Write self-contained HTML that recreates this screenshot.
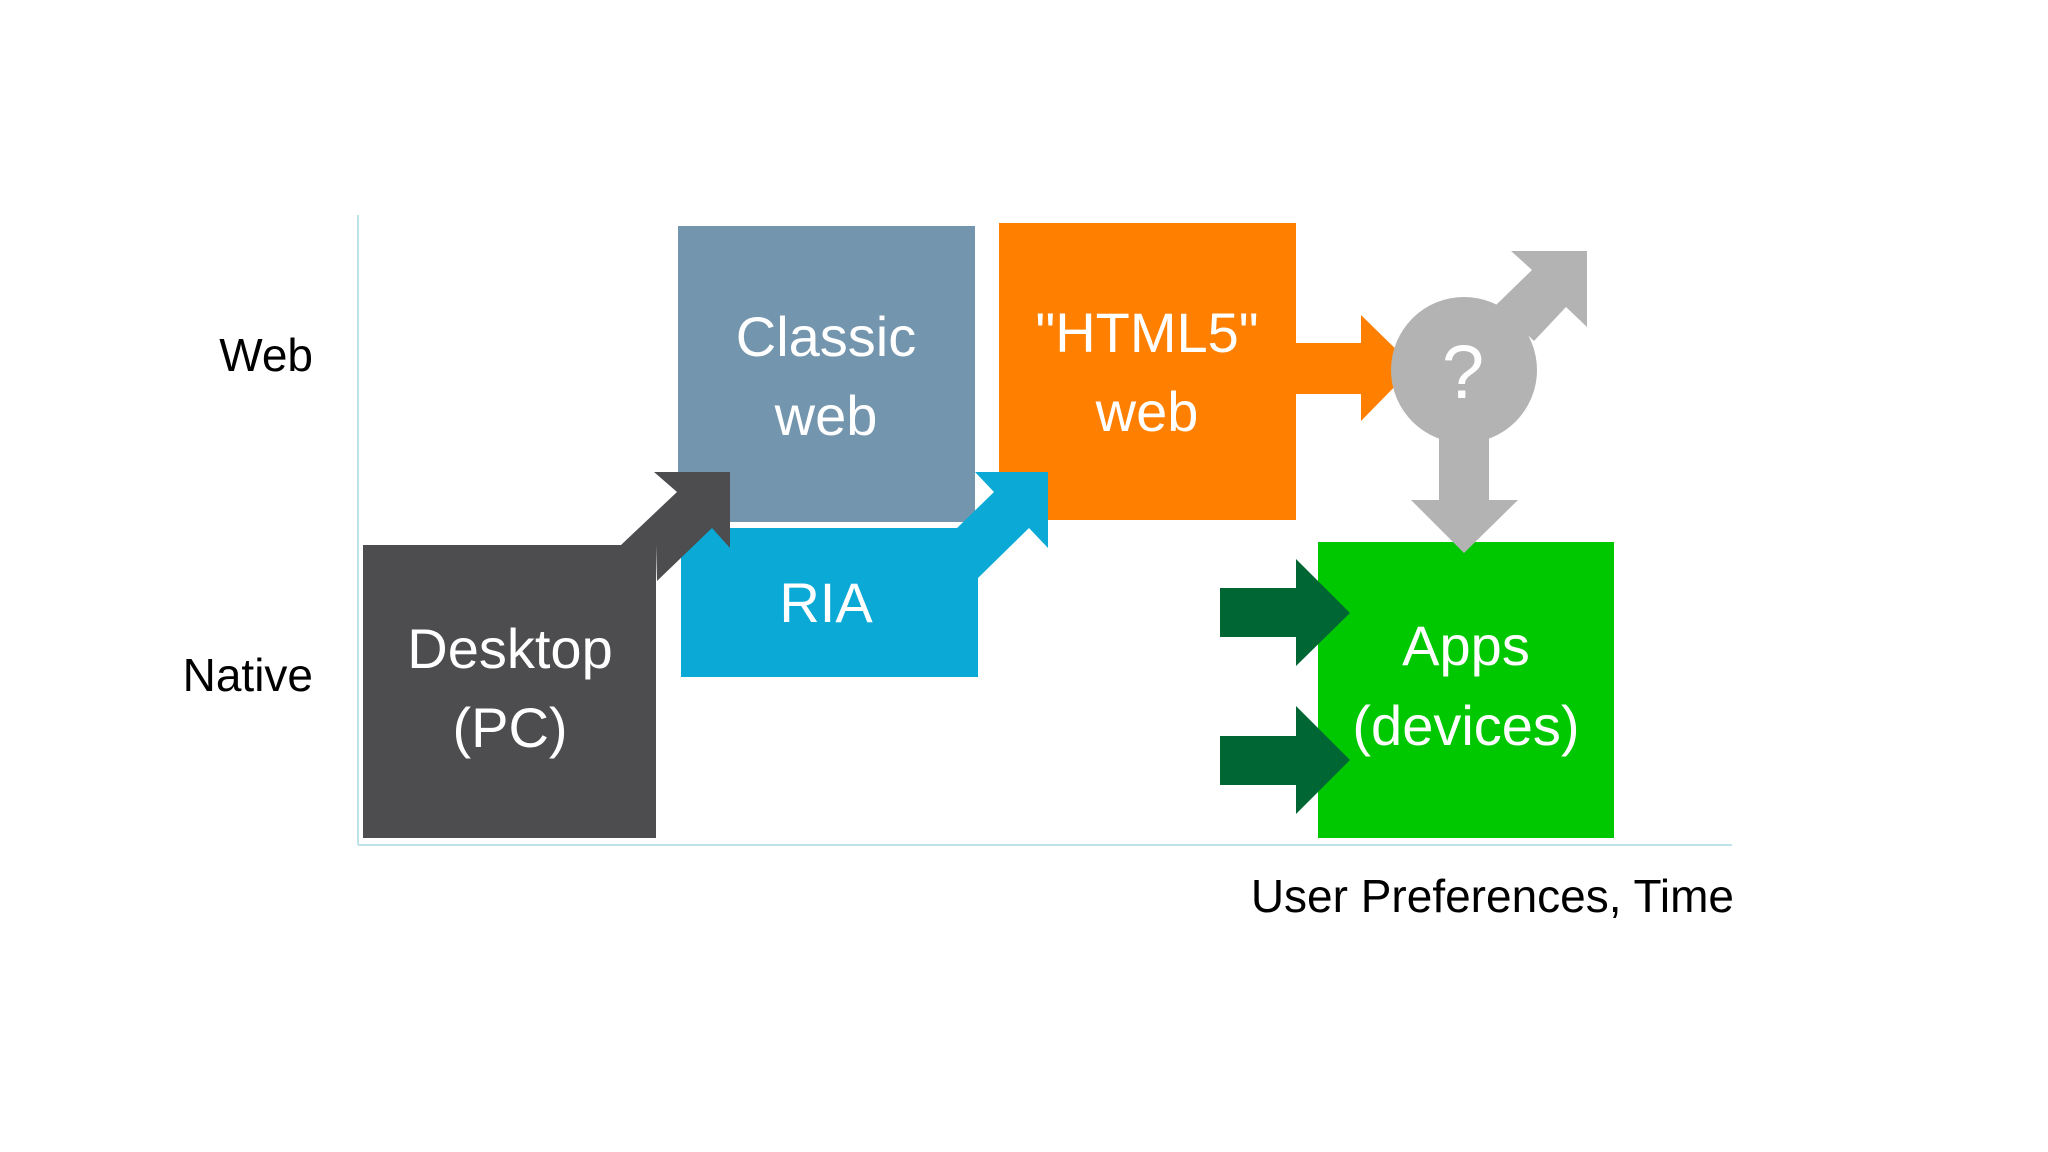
<!DOCTYPE html>
<html><head><meta charset="utf-8"><style>html,body{margin:0;padding:0;background:#fff}svg{display:block}</style></head>
<body>
<svg width="2048" height="1152" viewBox="0 0 2048 1152" xmlns="http://www.w3.org/2000/svg" font-family="Liberation Sans, sans-serif">
<rect width="2048" height="1152" fill="#fff"/>
<line x1="358" y1="215" x2="358" y2="845" stroke="#bfe3ea" stroke-width="2"/>
<line x1="358" y1="845" x2="1732" y2="845" stroke="#bfe3ea" stroke-width="2"/>
<rect x="678" y="226" width="297" height="296" fill="#7395ad"/>
<rect x="999" y="223" width="297" height="297" fill="#ff7f00"/>
<rect x="681" y="528" width="297" height="149" fill="#0ba9d6"/>
<polygon points="955,530 994,492 975,472 1048,472 1048,548 1029,528 978,578 978,530" fill="#0ba9d6"/>
<rect x="363" y="545" width="293" height="293" fill="#4d4d4f"/>
<polygon points="621,545 677,492 654,472 730,472 730,548 712,528 657,581 656,545" fill="#4d4d4f"/>
<rect x="1318" y="542" width="296" height="296" fill="#00c800"/>
<polygon points="1296,343 1361,343 1361,315 1414,367 1361,421 1361,394 1296,394" fill="#ff7f00"/>
<circle cx="1464" cy="370" r="73" fill="#b3b3b3"/>
<polygon points="1496,305 1532,270 1511,251 1587,251 1587,327 1566,307 1534,341" fill="#b3b3b3"/>
<polygon points="1439,420 1489,420 1489,500 1518,500 1464,553 1411,500 1439,500" fill="#b3b3b3"/>
<polygon points="1220,588 1296,588 1296,559 1350,613 1296,666 1296,637 1220,637" fill="#006633"/>
<polygon points="1220,736 1296,736 1296,706 1350,760 1296,814 1296,785 1220,785" fill="#006633"/>
<g fill="#fff" font-size="56" text-anchor="middle">
<text x="826" y="356">Classic</text>
<text x="826" y="435">web</text>
<text x="1147" y="352">"HTML5"</text>
<text x="1147" y="431">web</text>
<text x="826" y="622">RIA</text>
<text x="510" y="668">Desktop</text>
<text x="510" y="747">(PC)</text>
<text x="1466" y="665">Apps</text>
<text x="1466" y="745">(devices)</text>
<text x="1463" y="398" font-size="76">?</text>
</g>
<g fill="#000" font-size="46">
<text x="313" y="371" text-anchor="end">Web</text>
<text x="313" y="691" text-anchor="end">Native</text>
<text x="1734" y="912" text-anchor="end">User Preferences, Time</text>
</g>
</svg>
</body></html>
